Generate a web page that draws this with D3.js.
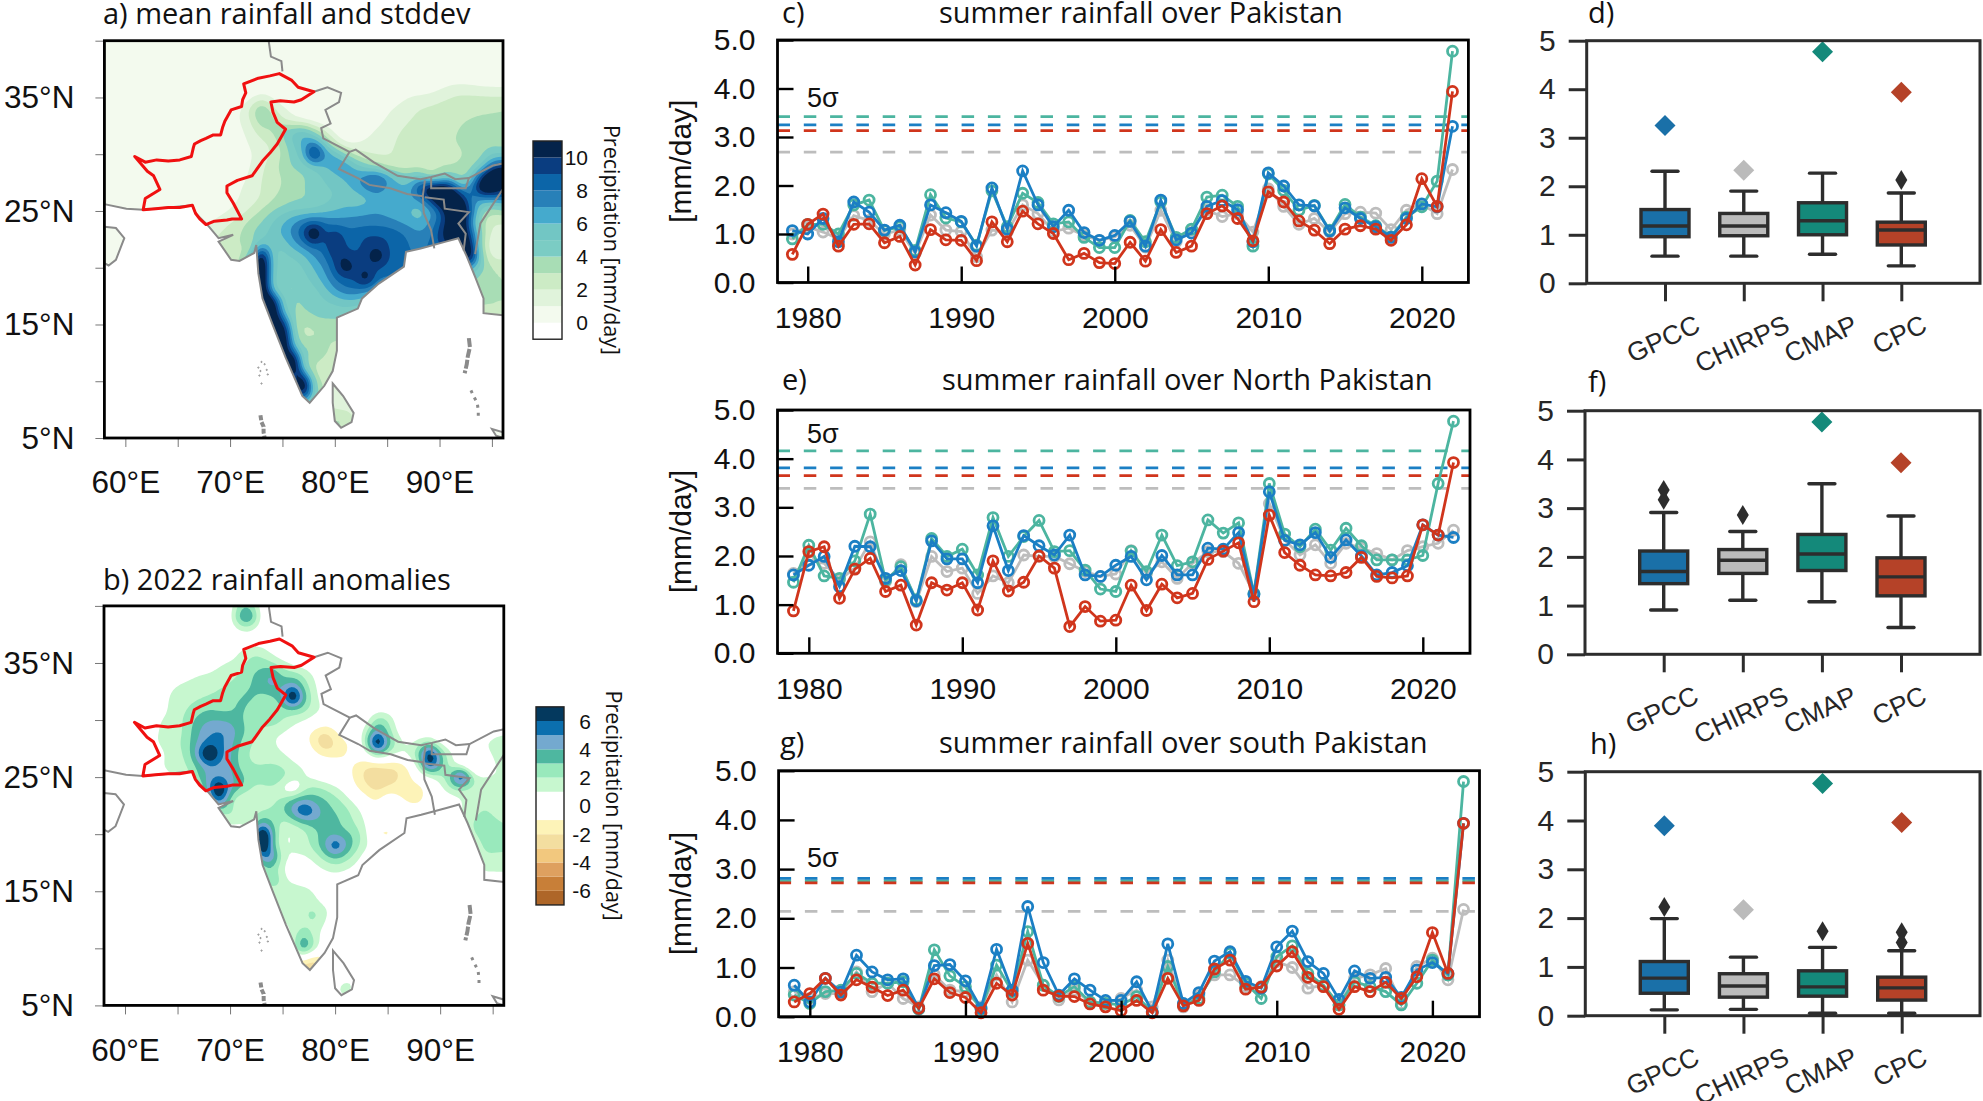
<!DOCTYPE html>
<html>
<head>
<meta charset="utf-8">
<script src="https://cdn.jsdelivr.net/npm/d3@7"></script>
<style>
  html, body { margin: 0; padding: 0; background: #fff; }
  svg { display: block; }
  text { font-family: "Liberation Sans", Arial, sans-serif; }
  .title { font-family: "Open Sans", sans-serif; font-size: 29px; fill: #111; }
</style>
</head>
<body>
<script>
// ---- time series, one value per year 1979-2022 ----
var years = d3.range(1979, 2023);
var tickYears = [1980, 1990, 2000, 2010, 2020];
var sources = ["GPCC", "CHIRPS", "CMAP", "CPC"];

var pakGPCC = [1.07,1.0,1.32,.84,1.66,1.45,1.08,1.18,.63,1.6,1.44,1.26,.75,1.95,1.1,2.3,1.6,1.15,1.49,1.03,.87,.97,1.26,.75,1.7,.88,1.02,1.57,1.69,1.5,.84,2.26,1.99,1.6,1.58,1.06,1.54,1.32,1.15,.93,1.32,1.62,1.56,3.22];
var pakCHIRPS = [1.0,1.15,1.04,.9,1.38,1.28,1.0,1.08,.6,1.39,1.08,1.05,.53,1.08,1.04,1.6,1.42,1.05,1.12,.97,.87,.94,1.18,.73,1.49,.84,1.08,1.49,1.36,1.42,1.04,1.93,1.57,1.2,1.32,1.04,1.42,1.45,1.43,1.09,1.49,1.61,1.42,2.33];
var pakCMAP = [.9,1.2,1.2,1.0,1.6,1.7,1.07,1.15,.66,1.81,1.33,1.25,.77,1.89,1.15,1.84,1.65,1.21,1.25,.93,.72,.72,1.28,.84,1.66,.93,1.1,1.76,1.8,1.57,.75,2.24,1.9,1.49,1.59,1.08,1.61,1.35,1.17,.94,1.35,1.56,2.09,4.77];
var pakCPC = [.58,1.2,1.41,.75,1.2,1.21,.82,.95,.36,1.09,.88,.87,.45,1.25,.84,1.47,1.21,1.01,.47,.6,.41,.39,.83,.44,1.09,.62,.75,1.42,1.58,1.32,.86,1.87,1.66,1.27,1.08,.8,1.1,1.17,1.1,.87,1.19,2.14,1.57,3.94];

var northGPCC = [1.61,1.81,1.99,1.37,2.2,2.19,1.54,1.7,1.08,2.31,1.94,1.94,1.45,2.62,1.7,2.42,2.21,2.02,2.43,1.61,1.58,1.81,1.99,1.51,2.01,1.61,1.61,2.16,2.14,2.48,1.21,3.32,2.32,2.23,2.48,1.97,2.33,2.0,1.61,1.66,1.8,2.64,2.43,2.38];
var northCHIRPS = [1.64,1.92,1.85,1.51,1.75,2.29,1.47,1.82,1.06,1.99,1.68,1.75,1.23,1.59,1.45,2.02,1.99,1.99,1.84,1.68,1.58,1.63,2.11,1.64,1.88,1.54,1.85,2.09,2.09,1.85,1.23,3.08,2.33,2.02,2.23,1.85,2.26,2.16,2.05,1.92,2.11,2.19,2.26,2.53];
var northCMAP = [1.46,2.22,1.59,1.54,1.9,2.86,1.5,1.78,1.1,2.36,1.99,2.14,1.61,2.79,1.99,2.4,2.73,2.09,2.11,1.71,1.32,1.27,2.1,1.68,2.43,1.8,1.88,2.74,2.47,2.68,1.23,3.49,2.45,2.19,2.55,2.12,2.57,2.21,1.92,1.92,1.92,2.01,3.49,4.77];
var northCPC = [.87,2.09,2.19,1.13,1.73,1.95,1.27,1.4,.58,1.45,1.3,1.45,.89,1.9,1.28,1.46,2.0,1.75,.55,.96,.66,.68,1.4,.88,1.42,1.14,1.23,1.93,2.1,2.27,1.06,2.84,2.07,1.81,1.61,1.59,1.66,1.97,1.58,1.55,1.59,2.64,2.43,3.92];

var southGPCC = [.64,.3,.78,.5,1.25,.91,.75,.77,.17,1.04,1.06,.73,.17,1.37,.54,2.24,1.1,.44,.77,.54,.33,.33,.71,.1,1.48,.27,.49,1.13,1.32,.72,.58,1.42,1.74,1.12,.88,.35,.93,.78,.8,.39,.95,1.1,.88,3.93];
var southCHIRPS = [.51,.37,.47,.47,.91,.51,.68,.37,.2,.85,.54,.51,.2,.85,.3,1.15,.64,.34,.54,.3,.27,.37,.54,.2,1.15,.2,.44,.85,.85,.61,.61,1.12,1.0,.58,.64,.24,.78,.85,.98,.27,1.02,1.19,.75,2.18];
var southCMAP = [.44,.27,.51,.54,.88,.68,.68,.71,.15,1.36,.83,.61,.15,1.05,.51,1.73,.64,.41,.61,.3,.27,.24,.41,.1,1.02,.24,.37,.91,1.29,.68,.37,1.22,1.44,.88,.64,.24,.71,.61,.51,.24,.68,1.15,.85,4.78];
var southCPC = [.3,.47,.78,.44,.75,.6,.43,.54,.17,.77,.49,.39,.08,.68,.44,1.49,.54,.42,.41,.26,.2,.12,.33,.08,.78,.22,.33,.97,1.15,.56,.6,1.03,1.32,.8,.61,.15,.61,.51,.7,.37,.81,1.71,.88,3.93];

// 5 sigma levels, same order as sources
var pakSigma = [3.25, 2.69, 3.42, 3.13];
var northSigma = [3.81, 3.39, 4.16, 3.65];
var southSigma = [2.81, 2.14, 2.76, 2.72];

// ---- box plots: low whisker, q1, median, q3, high whisker ----
var pakBoxes = [[.56,.96,1.18,1.52,2.31],[.56,.98,1.18,1.44,1.9],[.6,1.0,1.29,1.66,2.27],[.36,.79,1.1,1.26,1.86]];
var pakYear2022 = [3.25, 2.33, 4.77, 3.94];
var pakFliers = [[],[],[],[2.13]];
var northBoxes = [[.91,1.45,1.7,2.12,2.91],[1.11,1.66,1.93,2.15,2.52],[1.08,1.72,2.06,2.46,3.5],[.55,1.2,1.59,1.98,2.84]];
var northYear2022 = [null, null, 4.77, 3.93];
var northFliers = [[3.37,3.17],[2.86],[],[]];
var southBoxes = [[.12,.46,.77,1.11,1.99],[.13,.38,.61,.86,1.2],[.05,.4,.59,.92,1.4],[.05,.32,.57,.79,1.33]];
var southYear2022 = [3.89, 2.17, 4.76, 3.96];
var southFliers = [[2.23],[],[1.73],[1.71,1.5]];

// ---- maps ----
var gridLons = d3.range(62, 97);
var gridLats = d3.range(40, 4, -1);

// climatological rainfall, read by eye at 1 degree, row = lat 40..5, col = lon 62..96
var meanRain = [
[0,0,0,0,0,0,0,0,0,0,0,0,0,0,0,0,0,0,0,0,0,0,0,0,0,0,0,0,0,0,0,0,0,0,0],
[0,0,0,0,0,0,0,0,0,0,0,0,0,0,0,0,0,0,0,0,0,0,0,0,0,0,0,0,0,0,0,0,0,0,0],
[0,0,0,0,0,0,0,0,0,0,0,0,0,0,0,0,0,0,0,0,0,0,0,0,0,0,0,0,0,0,0,0,0,0,0],
[0,0,0,0,0,0,0,0,0,0,0,0,0,0,0,0,0,0,0,0,0,0,0,0,0,0,0,0,0,0,0,0,0,0,0],
[0,0,0,0, 0,0,0,0, 0,0,0,0, 0,0,0,0, 0,0,0,0, 0,0,0,0, 0,0,0,0, .6,1.1,1.3,1.1, .9,.8,.8],
[0,0,0,0, 0,0,0,0, 0,0,.6,1.5, .8,0,0,0, 0,0,0,0, 0,0,0,0, .5,1.1,1.3,1.5, 1.8,2.1,2.3,2.3, 2.3,2.2,2.2],
[0,0,0,0, 0,0,0,0, 0,1,2.5,4.8, 2.5,1.2,.7,0, 0,0,0,0, 0,0,0,.8, 1.3,1.6,2.1,2.2, 2.3,2.4,2.5,2.6, 2.7,2.8,3],
[0,0,0,0, 0,0,0,0, .6,1,2,4.2, 3.5,2,1,.5, 0,0,0,0, 0,0,.6,1.2, 1.6,2,2.2,2.3, 2.4,2.6,2.9,3.1, 3.3,3.3,3.3],
[0,0,0,0, 0,0,0,0, 0,.8,1.5,2.5, 3,4.5,5.5,6.3, 4,2,.5,0, 0,.7,1.2,1.5, 2,2.2,2.3,2.4, 2.6,2.8,3.1,3.4, 3.5,3.5,3.5],
[0,0,0,0, 0,0,0,0, 0,.5,1.2,1.8, 2,3.5,5,6.5, 7.5,5,2,.5, .8,1.2,1.4,1.8, 2.1,2.3,2.4,2.5, 2.7,2.9,3.2,3.4, 3.5,3.5,3.5],
[0,0,0,0, 0,0,0,0, 1,.5,.8,1.5, 2,3,4.5,5.5, 13,7,6.5,4, 2.5,2,1.8,2, 2.1,1.9,1.8,1.9, 2.1,2.4,2.8,3.2, 3.6,5,4.5],
[0,0,0,0, 0,0,0,0, 0,.5,1,1.8, 2.5,3.5,4.2,4.5, 5,6,7,7.5, 5.5,4,3,2, 2,2.1,2.3,2.4, 3,2.8,3.3,3.5, 4.5,8,9.5],
[0,0,0,0, 0,0,0,0, 0,.6,1.2,2, 2.5,3,3.5,3.7, 4.5,5,5.5,6.3, 7,8,9.2,7.5, 5.5,4.5,6,2.5, 3.5,5,3,4.5, 10,14,14],
[0,0,0,0, 0,0,0,0, .5,1,1.5,2, 2.8,3,3.5,4, 4.5,5,5,5.5, 6.3,7.5,8.2,6.5, 6.5,6.3,9.5,13, 13,12,6.5,7.5, 13,13,10],
[0,0,0,0, 0,0,0,0, .7,1,1.5,2, 2.8,3.3,3.8,3.8, 4,4.5,5,5.5, 5,5.3,6,6.3, 7,6.5,7,9, 13,13,12,7, 6.3,6.5,7.5],
[0,0,0,0, 0,0,.3,.6, 1,1.5,2.2,3.2, 4,4.6,5,5, 5.2,5.5,6,6.3, 6.5,6.8,7,6.6, 6.3,6,5,6, 8,12,13,9, 4,3,3.5],
[0,0,0,0, 0,0,.8,1.5, 2,2.5,3.5,4, 5,6,7,8, 8.5,8,7.5,7.5, 7.5,7.5,7.5,7.3, 7,6.5,6,7, 8.5,11,13,7, 3,2,2],
[0,0,0,0, 0,0,1.5,2, 2.5,3,4,4.5, 5.5,6.3,7.5,9, 14,8.5,10,8.5, 8.5,9,9,9, 8.5,8,7,7.5, 9.5,12,13,9, 4,1.5,1.5],
[0,0,0,0, 0,0,2,2.5, 3,3,3,6, 5,5,6.5,7.5, 8.5,8,11.5,8.5, 8.5,9.5,9.5,9, 8.3,8,8,8, 9,10,13,11, 3,1,1],
[0,0,0,0, 0,0,2,2.5, 2.5,2.5,4,14, 5,4.5,5,5.5, 7,8,9.5,10, 9,9.5,12,9.5, 8,8,8,8, 8,9,10,13, 4,1.5,1.5],
[0,0,0,0, 0,0,0,2, 2.5,3,10,14, 5,4.5,4.3,5, 6,7,9,12, 9.5,9.5,9,8.5, 8,8,8,8, 8,8,8,6, 4.5,3,3],
[0,0,0,0, 0,0,0,0, 0,0,10,14, 5,4,4,4.5, 5.5,6.5,8,8.5, 9,12.5,8,8, 8,8,8,8, 8,8,6,4, 3.5,3,3],
[0,0,0,0, 0,0,0,0, 0,0,10,14, 5,4,3.8,4.2, 4.5,5.5,7,8, 8,7,6,6, 6,6,6,6, 6,6,5,3.5, 3.5,3,3],
[0,0,0,0, 0,0,0,0, 0,0,9,14, 13,5,4,4, 4.5,4.8,5,5.5, 5.5,5,5,5, 5,5,5,5, 5,5,4,3, 3,3,3],
[0,0,0,0, 0,0,0,0, 0,0,8,9, 14,6,3.5,4, 4.2,4.5,4.5,4.5, 4,4,4,4, 4,4,4,4, 4,4,3,3, 3,3,3],
[0,0,0,0, 0,0,0,0, 0,0,0,6, 12,12,4,2.5, 3.5,3.5,3.5,3.5, 3,0,0,0, 0,0,0,0, 0,0,0,0, 0,0,0],
[0,0,0,0, 0,0,0,0, 0,0,0,0, 8,14,5,2.5, 2.5,3,3,3, 0,0,0,0, 0,0,0,0, 0,0,0,0, 0,0,0],
[0,0,0,0, 0,0,0,0, 0,0,0,0, 8,14,6,3.5, 4.8,3,3,3, 0,0,0,0, 0,0,0,0, 0,0,0,0, 0,0,0],
[0,0,0,0, 0,0,0,0, 0,0,0,0, 5,10,14,3.5, 3.5,3,2.5,2, 0,0,0,0, 0,0,0,0, 0,0,0,0, 0,0,0],
[0,0,0,0, 0,0,0,0, 0,0,0,0, 0,6,14,5, 2.5,1.8,2,2, 0,0,0,0, 0,0,0,0, 0,0,0,0, 0,0,0],
[0,0,0,0, 0,0,0,0, 0,0,0,0, 0,0,9,14, 4,2.5,2,1.5, 0,0,0,0, 0,0,0,0, 0,0,0,0, 0,0,0],
[0,0,0,0, 0,0,0,0, 0,0,0,0, 0,0,7,13, 4.5,3,1,1, 1,0,0,0, 0,0,0,0, 0,0,0,0, 0,0,0],
[0,0,0,0, 0,0,0,0, 0,0,0,0, 0,0,4,5, 4,3,1,1, 1,0,0,0, 0,0,0,0, 0,0,0,0, 0,0,0],
[0,0,0,0, 0,0,0,0, 0,0,0,0, 0,0,0,0, 0,2,3,3, 2,0,0,0, 0,0,0,0, 0,0,0,0, 0,0,0],
[0,0,0,0, 0,0,0,0, 0,0,0,0, 0,0,0,0, 0,2,4,2.5, 2,0,0,0, 0,0,0,0, 0,0,0,0, 0,0,0],
[0,0,0,0, 0,0,0,0, 0,0,0,0, 0,0,0,0, 0,0,3,2, 0,0,0,0, 0,0,0,0, 0,0,0,0, 0,0,0]
];

// 2022 anomaly, same grid as meanRain
var anomalyRain = [
[0,0,0,0, 0,0,0,0, 0,2.5,2.5,0, 0,0,0,0, 0,0,0,0, 0,0,0,0, 0,0,0,0, 0,0,0,0, 0,0,0],
[0,0,0,0, 0,0,0,0, 0,5,5.5,0, 0,0,0,0, 0,0,0,0, 0,0,0,0, 0,0,0,0, 0,0,0,0, 0,0,0],
[0,0,0,0, 0,0,0,0, 0,1,1,0, 0,0,0,0, 0,0,0,0, 0,0,0,0, 0,0,0,0, 0,0,0,0, 0,0,0],
[0,0,0,0, 0,0,0,0, 0,0,0,0, 0,0,0,0, 0,0,0,0, 0,0,0,0, 0,0,0,0, 0,0,0,0, 0,0,0],
[0,0,0,0, 0,0,0,0, 0,1.2,1.8,1.8, .5,0,0,0, 0,0,0,0, 0,0,0,0, 0,0,0,0, 0,0,0,0, 0,0,0],
[0,0,0,0, 0,0,0,.8, 1.2,1.5,2.5,2.5, 2,1.2,.5,0, 0,0,0,0, 0,0,0,0, 0,0,0,0, 0,0,0,0, 0,0,0],
[0,0,0,0, .5,1,1.2,1.5, 1.8,2,3,3.5, 4.8,2.5,2.5,2, .8,0,0,0, 0,0,0,0, 0,0,0,0, 0,0,0,0, 0,0,0],
[0,0,.5,1.2, 1.4,1.6,1.6,1.8, 2,2.5,3,3.5, 4.8,3.5,5,2.5, 1.2,0,0,0, 0,0,0,0, 0,0,0,0, 0,0,0,0, 0,0,0],
[0,0,1,1.5, 1.7,1.8,2,2.4, 2.8,3,3.5,2.5, 2.5,4,11,3.5, 1.5,0,0,0, 0,0,0,0, 0,0,0,0, 0,0,0,0, 0,0,0],
[0,0,1,1.5, 2,2.5,3,2.5, 2.5,3.5,2.5,2, 2,2.5,2.5,2.5, 1.5,1,0,0, 0,0,0,0, 0,0,0,0, 0,0,0,0, 0,0,0],
[0,1,1.2,1.6, 2.5,3.5,4,4, 3.8,3,2.5,2.5, 3.2,2,1.5,1.2, .6,0,0,0, 0,0,3,2.5, 0,0,-2.2,0, 0,-1.6,0,0, 0,0,0],
[0,1,1.2,1.5, 2.5,4,5,5.3, 5,3.5,2.5,1.5, 1.2,1,.5,-.5, -1.5,-2.2,-1,0, 0,1.5,5,2.5, .5,0,0,0, 0,0,0,0, 0,0,0],
[0,1.2,1.5,1.8, 2.6,4.2,5.3,5.3, 4.5,2.8,2,1.5, 1.1,.5,.5,-.5, -1.5,-3.8,-2,-1.2, -.8,2.5,11,4, 1.5,.5,1.5,2, 0,0,0,0, 1,1.5,2.8],
[0,0,1.2,1.7, 2.2,5.5,10,5.5, 4.3,2.3,1.8,1.5, 1.5,1,.5,0, -.5,-1.2,-1.5,-1.2, 0,0,3,1.5, 1,1.5,3,10, 3.5,1.2,0,0, 0,1.2,1.5],
[0,1,1.2,1.5, 2,3,4.5,4.5, 4.3,2.5,2,2, 2,2,1.2,1, 0,0,0,-.5, -1.3,-2.2,-2.5,-2.2, -2.2,-1.1,1.5,8, 3.5,1.2,-.5,-2, -1,1,1.2],
[0,0,.8,1.2, 1.5,3.3,4.5,4.5, 4.3,3.5,2.5,2.5, 3.8,2.5,2,1.2, .5,0,0,-.3, -1.5,-2.5,-3,-2.5, -2.2,-1.2,-.3,0, 1.5,3,11,2.5, 1,1,1],
[0,0,0,0, 0,1,5,10, 4,3.5,2,1.5, 1.5,.5,-1.6,1.5, 2.5,2,1.2,.5, -1,-1.8,-2.5,-2, -1.7,-1.5,-1.5,-.5, .5,2,1.5,1.2, 2,1.8,1.5],
[0,0,0,0, 0,0,3,7, 2,.5,.6,1, 1.5,2.5,3.8,4.2, 3.5,3.2,2.5,1.5, .5,-.5,-1.5,.8, -.5,-1.5,-1.8,0, 0,0,1,1.5, 2,1.8,1.5],
[0,0,0,0, 0,0,0,2.5, 2.5,1.5,1.5,2, 2.2,3,4.8,8, 5.5,3.5,3,2.5, 1.5,.5,0,0, 0,0,0,0, 0,0,1,1.5, 2,1.8,1],
[0,0,0,0, 0,0,0,0, 1.5,1,1,4, 3,1.2,2,2.5, 3.5,3.5,3.5,2.5, 1.8,.6,.2,-.5, -.5,0,0,0, 0,0,1.2,2, 2.8,2.5,2],
[0,0,0,0, 0,0,0,0, 0,0,2,11, 4,.7,.8,1.5, 2.5,3.5,3.3,3.3, 2.8,1.2,-1.6,-1.8, -.5,0,0,0, 0,0,0,2, 2.5,2.5,2.5],
[0,0,0,0, 0,0,0,0, 0,0,2,11, 3,.7,1.2,1.5, 2.5,4,8,4.5, 2.5,1.2,.3,0, 0,0,0,0, 0,0,0,0, 2.5,2.3,2],
[0,0,0,0, 0,0,0,0, 0,0,0,5,6.5,1,1,.7, 1.2,2.5,3.2,2.5, 1.5,0,0,0, 0,0,0,0, 0,0,0,0, 1.8,1.8,2],
[0,0,0,0, 0,0,0,0, 0,0,0,2, 2.5,.7,.2,.3, .5,1,1.5,1.2, .5,0,0,0, 0,0,0,0, 0,0,0,0, 1.5,1.5,1.5],
[0,0,0,0, 0,0,0,0, 0,0,0,2, 4,1.5,.3,.3, .3,.3,.3,0, 0,0,0,0, 0,0,0,0, 0,0,0,0, 0,0,0],
[0,0,0,0, 0,0,0,0, 0,0,0,0, 1.2,1.5,2,1.5, 1,.3,0,0, 0,0,0,0, 0,0,0,0, 0,0,0,0, 0,0,0],
[0,0,0,0, 0,0,0,0, 0,0,0,0, 1,1.2,1.5,1.8, 1.2,.5,1.1,0, 0,0,0,0, 0,0,0,0, 0,0,0,0, 0,0,0],
[0,0,0,0, 0,0,0,0, 0,0,0,0, 0,2,2.5,1.5, 3.2,1.2,.5,0, 0,0,0,0, 0,0,0,0, 0,0,0,0, 0,0,0],
[0,0,0,0, 0,0,0,0, 0,0,0,0, 0,0,1.5,1.5, 1.7,.8,0,0, 0,0,0,0, 0,0,0,0, 0,0,0,0, 0,0,0],
[0,0,0,0, 0,0,0,0, 0,0,0,0, 0,0,1.3,3.8, 1.5,.3,0,0, 0,0,0,0, 0,0,0,0, 0,0,0,0, 0,0,0],
[0,0,0,0, 0,0,0,0, 0,0,0,0, 0,0,1,6, 2,0,0,0, 0,0,0,0, 0,0,0,0, 0,0,0,0, 0,0,0],
[0,0,0,0, 0,0,0,0, 0,0,0,0, 0,0,-1,-1.5, -3,-1.5,0,0, 0,0,0,0, 0,0,0,0, 0,0,0,0, 0,0,0],
[0,0,0,0, 0,0,0,0, 0,0,0,0, 0,0,-1.5,-3.2, -3.2,0,0,0, 0,0,0,0, 0,0,0,0, 0,0,0],
[0,0,0,0, 0,0,0,0, 0,0,0,0, 0,0,0,0, 0,0,.5,1.5, 1,0,0,0, 0,0,0,0, 0,0,0,0, 0,0,0],
[0,0,0,0, 0,0,0,0, 0,0,0,0, 0,0,0,0, 0,0,1,1.5, .5,0,0,0, 0,0,0,0, 0,0,0,0, 0,0,0],
[0,0,0,0, 0,0,0,0, 0,0,0,0, 0,0,0,0, 0,0,0,0, 0,0,0,0, 0,0,0,0, 0,0,0,0, 0,0,0]
];

var meanLevels = [-100, 0, 1, 2, 3, 4, 5, 6, 7, 8, 9, 10];
var meanColors = ["#ffffff","#f3faee","#e0f3db","#ccebc5","#a8ddb5","#7bccc4","#72c6c4","#45aacd","#2880b8","#0c65a8","#0a3d80","#04234a"];
var meanTicks = [0, 2, 4, 6, 8, 10];
var anomLevels = [-100, -6, -5, -4, -3, -2, -1, 1, 2, 3, 4, 5, 6];
var anomColors = ["#ae6628","#c87f38","#dea05f","#f2c87e","#f3dea0","#fdf3b8","#ffffff","#c7f7cf","#99e9bc","#4eb7a0","#74a9cf","#0b6fae","#04395e"];
var anomTicks = [-6, -4, -2, 0, 2, 4, 6];

// outlines in lon, lat
var pakistan = [[60.9,29.8],[61.9,29.3],[63,29.5],[64.1,29.4],[65.2,29.5],[66.3,29.8],[66.5,30.6],[66.6,30.9],[67.2,31.2],[67.7,31.4],[68.4,31.7],[69.1,31.7],[69.3,32.4],[69.5,32.9],[70.1,33.9],[71.1,34.2],[71.2,34.8],[71.5,35.4],[71.3,36.2],[72.7,36.7],[73.8,36.9],[74.7,37.1],[75.9,36.5],[76.5,35.9],[78,35.5],[76.8,34.8],[76.1,34.6],[74.8,34.7],[73.9,34.6],[74.1,33.7],[74.5,32.8],[75.3,32.2],[74.5,30.9],[73.8,30.1],[73.1,29.4],[72.1,28.1],[70.7,27.7],[69.7,27.2],[69.7,26.6],[70.3,25.7],[71.1,24.3],[70.2,24.3],[69.7,24.2],[68.5,24.1],[67.7,23.8],[67.1,24.3],[66.7,24.8],[66.4,25.5],[65.2,25.3],[64.1,25.3],[62.9,25.2],[61.7,25.1],[61.9,26.1],[63.3,26.9],[62.7,28.1],[62.1,28.5]];
var mainland = [[58,40],[96.1,40],[96.1,15.8],[94.2,16],[94.2,17.3],[93.4,19.2],[92.6,21],[91.8,22.6],[90.6,22.3],[88.2,21.7],[86.8,21.4],[86.6,20.1],[84.2,18.6],[82.6,17.3],[82.2,16.4],[80.2,15.6],[80.2,12.7],[79.8,10.9],[79,9.6],[77.6,8.1],[76.9,8.7],[75.3,12.1],[74.1,14.9],[73.1,17.3],[72.7,19.5],[72.5,22],[72.3,21.3],[70.9,20.6],[70.1,20.7],[68.9,22.3],[70.3,22.9],[68.9,22.6],[67.9,23.7],[66.7,24.8],[66.4,25.5],[64.1,25.3],[61.7,25.1],[60.1,25.2],[58,25.6]];
var oman = [[58,23.6],[59.1,23.5],[59.9,22.6],[59.1,20.7],[58.4,20.2],[58,20.4]];
var sriLanka = [[79.8,9.8],[80.8,8.7],[81.8,7.2],[81.6,6.4],[80.6,5.9],[80,6.5],[79.8,8.1]];
var sumatra = [[95,5.8],[96.1,5.5],[96.1,5],[95.4,5.2]];
var borders = [
  [[73.7,39.9],[73.9,38.6],[74.9,38.2],[75,37.3]],
  [[78,35.5],[79.3,35.9],[80.6,35.4],[80.4,34.6],[79.1,33.9],[79.6,32.7],[78.7,32.3],[78.9,31.4],[81.4,30.2],[82,30.4],[83.7,29.3],[86,28.1],[88.2,27.8],[89.2,28],[90.5,28.3],[91.5,27.8],[92.8,27.9],[95.1,29],[96.1,29.2]],
  [[81.4,30.2],[80.4,28.7],[82.2,27.9],[83.3,27.3],[85.3,27],[86.9,26.5],[88.4,26.3],[88.6,27.7]],
  [[89.2,28],[89.2,27],[92.5,27],[92.8,27.9]],
  [[88.4,26.3],[88.5,24.8],[89.2,23.3],[89.5,21.7]],
  [[88.6,26.2],[90.4,26],[90.5,25.2],[92.8,24.9],[91.8,23.9],[92.5,23],[92.3,21.5]],
  [[96.1,27],[93.9,23.9],[93.4,21.2]]
];
var andaman = [[92.8,13.8],[92.9,13],[92.7,12.2],[92.6,11.5],[92.4,10.7]];
var nicobar = [[93,9.2],[93.3,8.6],[93.6,8.1],[93.7,7.4],[93.7,6.9]];
var maldives = [[72.9,7],[73,6.4],[73.2,6],[73.2,5.5],[73.3,5]];
var lakshadweep = [[73,11.7],[73.3,11.5],[72.7,11.2],[72.9,10.9],[73.5,11],[72.8,10.5],[73.6,10.6],[73,9.8]];

// ---- page ----
var svg = d3.select("body").append("svg").attr("width", 1983).attr("height", 1101);
var colours = { GPCC: "#1b7fc4", CHIRPS: "#bdbdbd", CMAP: "#4cb5a0", CPC: "#d0351c" };
var boxColours = { GPCC: "#1a70a8", CHIRPS: "#bbbbbb", CMAP: "#14897a", CPC: "#b54228" };
var mapCount = 0;

function title(x, y, s) {
    svg.append("text").attr("class", "title").attr("x", x).attr("y", y).text(s);
}

// pad the grid out to lon 58 and smooth it so the contours are not blocky
function smoothField(grid, factor) {
    var rows = grid.map(function (r) { return [0, 0, 0, 0].concat(r); });
    var w = rows[0].length, h = rows.length;
    var data = new Float64Array(w * factor * h * factor);
    for (var j = 0; j < h * factor; j++) {
        for (var i = 0; i < w * factor; i++) {
            data[j * w * factor + i] = rows[Math.floor(j / factor)][Math.floor(i / factor)];
        }
    }
    d3.blur2({ data: data, width: w * factor, height: h * factor }, factor * 0.4);
    return { data: data, w: w * factor, h: h * factor };
}

// one map: filled contours clipped to land, then outlines and axes
function drawMap(p, grid, levels, colors, baseFill) {
    var x = d3.scaleLinear().domain([58, 96.06]).range([p.left, p.right]);
    var y = d3.scaleLinear().domain([5, 40]).range([p.bottom, p.top]);
    var line = d3.line().x(function (d) { return x(d[0]); }).y(function (d) { return y(d[1]); });
    var id = "land" + (mapCount++);

    var land = [mainland, oman, sriLanka, sumatra];
    var clip = svg.append("clipPath").attr("id", id);
    clip.append("path").attr("d", land.map(function (l) { return line(l) + "Z"; }).join(""));
    var fc = svg.append("clipPath").attr("id", "frame" + id);
    fc.append("rect").attr("x", p.left).attr("y", p.top).attr("width", p.right - p.left).attr("height", p.bottom - p.top);

    var g = svg.append("g").attr("clip-path", "url(#" + id + ")");
    g.append("rect").attr("x", p.left).attr("y", p.top)
        .attr("width", p.right - p.left).attr("height", p.bottom - p.top).attr("fill", baseFill);

    var field = smoothField(grid, 4);
    var gx = d3.scaleLinear().domain([0, field.w]).range([x(57.5), x(96.5)]);
    var gy = d3.scaleLinear().domain([0, field.h]).range([y(40.5), y(4.5)]);
    var contours = d3.contours().size([field.w, field.h]).thresholds(levels)(field.data);
    var path = d3.geoPath(d3.geoTransform({
        point: function (a, b) { this.stream.point(gx(a), gy(b)); }
    }));
    contours.forEach(function (c, i) {
        if (i === 0) return;
        g.append("path").attr("d", path(c)).attr("fill", colors[i]);
    });

    // coast and borders
    var outlines = svg.append("g").attr("clip-path", "url(#frame" + id + ")")
        .attr("fill", "none").attr("stroke", "#8a8a8a").attr("stroke-width", 2);
    land.forEach(function (l) {
        outlines.append("path").attr("d", line(l) + "Z");
    });
    borders.forEach(function (b) {
        outlines.append("path").attr("d", line(b));
    });
    outlines.append("path").attr("d", line(andaman)).attr("stroke-width", 4).attr("stroke-dasharray", "9,2");
    outlines.append("path").attr("d", line(nicobar)).attr("stroke-width", 3).attr("stroke-dasharray", "3,5");
    outlines.append("path").attr("d", line(maldives)).attr("stroke-width", 4).attr("stroke-dasharray", "5,2");
    lakshadweep.forEach(function (d) {
        outlines.append("circle").attr("cx", x(d[0])).attr("cy", y(d[1])).attr("r", 0.6).attr("stroke-width", 1);
    });
    svg.append("path").attr("d", line(pakistan) + "Z").attr("fill", "none")
        .attr("stroke", "#f01010").attr("stroke-width", 3).attr("stroke-linejoin", "round");

    // axes
    var ax = d3.axisBottom(x).tickValues(d3.range(60, 96, 5)).tickSize(9).tickPadding(24)
        .tickFormat(function (d) { return d % 10 === 0 ? d + "°E" : ""; });
    var ay = d3.axisLeft(y).tickValues(d3.range(5, 41, 5)).tickSize(9).tickPadding(21)
        .tickFormat(function (d) { return d % 10 === 5 ? d + "°N" : ""; });
    [svg.append("g").attr("transform", "translate(0," + p.bottom + ")").call(ax),
     svg.append("g").attr("transform", "translate(" + p.left + ",0)").call(ay)].forEach(function (a) {
        a.select(".domain").remove();
        a.selectAll("line").attr("stroke", "#777").attr("stroke-width", 1);
        a.selectAll("text").attr("font-size", 31.5).attr("fill", "#111");
    });
    svg.append("rect").attr("x", p.left).attr("y", p.top).attr("width", p.right - p.left).attr("height", p.bottom - p.top)
        .attr("fill", "none").attr("stroke", "#000").attr("stroke-width", 2.8);

    // colour bar
    var n = levels.length;
    var lo = levels[1] - 1, hi = levels[n - 1] + 1;
    var cb = d3.scaleLinear().domain(p.barDomain).range(p.barRange);
    levels.forEach(function (l, i) {
        var v0 = i === 0 ? lo : l;
        var v1 = i === n - 1 ? hi : levels[i + 1];
        svg.append("rect").attr("x", p.barX).attr("width", p.barW)
            .attr("y", cb(v1)).attr("height", cb(v0) - cb(v1)).attr("fill", colors[i]);
    });
    svg.append("rect").attr("x", p.barX).attr("width", p.barW).attr("y", cb(hi)).attr("height", cb(lo) - cb(hi))
        .attr("fill", "none").attr("stroke", "#222").attr("stroke-width", 1.4);
    p.barTicks.forEach(function (t) {
        svg.append("text").attr("x", p.barX + 55).attr("y", cb(t)).attr("dy", ".36em")
            .attr("text-anchor", "end").attr("font-size", 21).attr("fill", "#111").text(t);
    });
    svg.append("text").attr("class", "title").style("font-size", "21.5px")
        .attr("transform", "translate(" + p.barTitleX + "," + p.barTitleY + ") rotate(90)")
        .attr("text-anchor", "middle").text("Precipitation [mm/day]");
}

drawMap({ left: 104.4, right: 503, top: 40.7, bottom: 438,
          barX: 533, barW: 29, barDomain: [0, 10], barRange: [322.7, 157.5], barTicks: meanTicks, barTitleX: 604, barTitleY: 240 },
        meanRain, meanLevels, meanColors, "#f3faee");
drawMap({ left: 104, right: 503.8, top: 605.9, bottom: 1005.4,
          barX: 536, barW: 28, barDomain: [-6, 6], barRange: [890.8, 721], barTicks: anomTicks, barTitleX: 606, barTitleY: 805.6 },
        anomalyRain, anomLevels, anomColors, "#ffffff");
title(103, 24, "a) mean rainfall and stddev");
title(103, 590, "b) 2022 rainfall anomalies");

// one time series panel
function drawSeries(p, series, sigma) {
    var x = d3.scaleLinear().domain([1980, 2020]).range([p.x1980, p.x2020]);
    var y = d3.scaleLinear().domain([0, 5]).range([p.bottom, p.top]);
    var line = d3.line().x(function (d, i) { return x(years[i]); }).y(function (d) { return y(d); });
    var order = [1, 2, 0, 3]; // gray first, red last

    order.forEach(function (k) {
        svg.append("line").attr("x1", p.left).attr("x2", p.right)
            .attr("y1", y(sigma[k])).attr("y2", y(sigma[k]))
            .attr("stroke", colours[sources[k]]).attr("stroke-width", 2.8).attr("stroke-dasharray", "12.5,13.8");
    });
    order.forEach(function (k) {
        var c = colours[sources[k]];
        svg.append("path").attr("d", line(series[k])).attr("fill", "none").attr("stroke", c).attr("stroke-width", 2.8);
        svg.selectAll(null).data(series[k]).enter().append("circle")
            .attr("cx", function (d, i) { return x(years[i]); })
            .attr("cy", function (d) { return y(d); })
            .attr("r", 5).attr("fill", "none").attr("stroke", c).attr("stroke-width", 2.8);
    });

    var ax = d3.axisBottom(x).tickValues(tickYears).tickFormat(d3.format("d")).tickSize(-16).tickPadding(24);
    var ay = d3.axisLeft(y).tickValues([0, 1, 2, 3, 4, 5]).tickFormat(d3.format(".1f")).tickSize(-16).tickPadding(22);
    [svg.append("g").attr("transform", "translate(0," + p.bottom + ")").call(ax),
     svg.append("g").attr("transform", "translate(" + p.left + ",0)").call(ay)].forEach(function (a) {
        a.select(".domain").remove();
        a.selectAll("line").attr("stroke", "#000").attr("stroke-width", 2.4);
        a.selectAll("text").attr("font-size", 30).attr("fill", "#111");
    });
    svg.append("rect").attr("x", p.left).attr("y", p.top).attr("width", p.right - p.left).attr("height", p.bottom - p.top)
        .attr("fill", "none").attr("stroke", "#000").attr("stroke-width", 2.8);

    svg.append("text").attr("x", 807).attr("y", p.sigmaY).attr("font-size", 27).attr("fill", "#111").text("5σ");
    svg.append("text").attr("transform", "translate(" + 691 + "," + (p.top + p.bottom) / 2 + ") rotate(-90)")
        .attr("text-anchor", "middle").attr("font-size", 30).attr("fill", "#111").text("[mm/day]");
}

drawSeries({ left: 777.5, right: 1468.4, top: 40, bottom: 282.5, x1980: 807.7, x2020: 1421.8, sigmaY: 107 },
           [pakGPCC, pakCHIRPS, pakCMAP, pakCPC], pakSigma);
drawSeries({ left: 777.5, right: 1470, top: 410, bottom: 653.3, x1980: 808.8, x2020: 1422.8, sigmaY: 443 },
           [northGPCC, northCHIRPS, northCMAP, northCPC], northSigma);
drawSeries({ left: 778.6, right: 1479.5, top: 770.7, bottom: 1016.7, x1980: 809.8, x2020: 1432.4, sigmaY: 867 },
           [southGPCC, southCHIRPS, southCMAP, southCPC], southSigma);
title(782, 23, "c)");   title(939, 23, "summer rainfall over Pakistan");
title(782, 390, "e)");  title(942, 390, "summer rainfall over North Pakistan");
title(780, 753, "g)");  title(939, 753, "summer rainfall over south Pakistan");

// one box plot panel
function drawBoxes(p, boxes, year2022, fliers) {
    var x = d3.scalePoint().domain(sources).range([p.first, p.last]);
    var y = d3.scaleLinear().domain([0, 5]).range([p.bottom, p.top]);
    var dark = "#2d2d2d";
    var diamond = function (cx, cy, w, h) {
        return "M" + cx + "," + (cy - h) + "L" + (cx + w) + "," + cy + "L" + cx + "," + (cy + h) + "L" + (cx - w) + "," + cy + "Z";
    };

    sources.forEach(function (s, i) {
        var b = boxes[i], cx = x(s);
        var g = svg.append("g").attr("stroke", dark).attr("stroke-width", 3.4);
        g.append("line").attr("x1", cx).attr("x2", cx).attr("y1", y(b[0])).attr("y2", y(b[4]));
        [b[0], b[4]].forEach(function (v) {
            g.append("line").attr("x1", cx - 13).attr("x2", cx + 13).attr("y1", y(v)).attr("y2", y(v)).attr("stroke-linecap", "round");
        });
        g.append("rect").attr("x", cx - 24).attr("width", 48).attr("y", y(b[3])).attr("height", y(b[1]) - y(b[3])).attr("fill", boxColours[s]);
        g.append("line").attr("x1", cx - 24).attr("x2", cx + 24).attr("y1", y(b[2])).attr("y2", y(b[2]));

        fliers[i].forEach(function (v) {
            svg.append("path").attr("d", diamond(cx, y(v), 6, 10)).attr("fill", dark);
        });
        if (year2022[i] !== null) {
            svg.append("path").attr("d", diamond(cx, y(year2022[i]), 10.5, 10.5)).attr("fill", boxColours[s]);
        }
    });

    var ax = d3.axisBottom(x).tickSize(18).tickFormat("");
    var ay = d3.axisLeft(y).tickValues([0, 1, 2, 3, 4, 5]).tickFormat(d3.format("d")).tickSize(18).tickPadding(13);
    [svg.append("g").attr("transform", "translate(0," + p.bottom + ")").call(ax),
     svg.append("g").attr("transform", "translate(" + p.left + ",0)").call(ay)].forEach(function (a) {
        a.select(".domain").remove();
        a.selectAll("line").attr("stroke", dark).attr("stroke-width", 3);
        a.selectAll("text").attr("font-size", 30).attr("fill", "#262626");
    });
    svg.append("rect").attr("x", p.left).attr("y", p.top).attr("width", p.right - p.left).attr("height", p.bottom - p.top)
        .attr("fill", "none").attr("stroke", dark).attr("stroke-width", 3);

    // rotated names, top of the rotated box sits on one line
    var angle = 25 * Math.PI / 180;
    sources.forEach(function (s) {
        var t = svg.append("text").attr("text-anchor", "middle").attr("dy", ".36em")
            .attr("font-size", 26.5).attr("fill", "#262626").text(s);
        var h = t.node().getComputedTextLength() * Math.sin(angle) + 26.5 * Math.cos(angle);
        t.attr("transform", "translate(" + (x(s) - 2) + "," + (p.bottom + 27 + h / 2) + ") rotate(-25)");
    });
}

drawBoxes({ left: 1586.7, right: 1980, top: 40.7, bottom: 283.3, first: 1665, last: 1901.3 }, pakBoxes, pakYear2022, pakFliers);
drawBoxes({ left: 1585, right: 1980, top: 410.7, bottom: 654.3, first: 1663.7, last: 1901 }, northBoxes, northYear2022, northFliers);
drawBoxes({ left: 1585.3, right: 1980, top: 771.7, bottom: 1015.7, first: 1664.3, last: 1901.7 }, southBoxes, southYear2022, southFliers);
title(1588, 23, "d)");
title(1588, 392, "f)");
title(1590, 754, "h)");
</script>
</body>
</html>
